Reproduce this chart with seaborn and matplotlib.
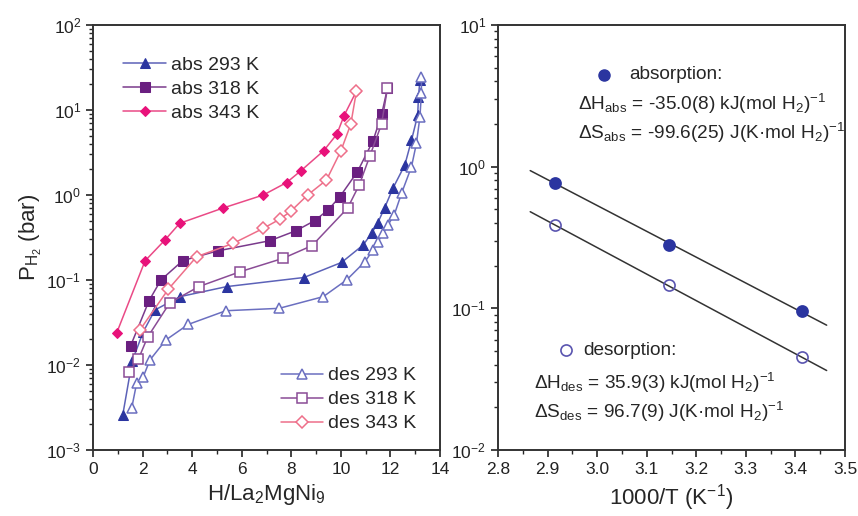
import numpy as np
import matplotlib
matplotlib.use('Agg')
import matplotlib.pyplot as plt
import seaborn as sns
from matplotlib.ticker import LogLocator, MultipleLocator, NullFormatter

# isotherm data (x = H/La2MgNi9, y = P in bar)
abs293_x = [1.2, 1.58, 2.03, 2.5, 3.51, 5.39, 8.51, 10.03, 10.9, 11.24, 11.48, 11.77, 12.1, 12.58, 12.85, 13.1, 13.13, 13.19]
abs293_p = [0.00258, 0.0111, 0.0247, 0.0444, 0.0637, 0.0836, 0.107, 0.161, 0.258, 0.354, 0.465, 0.71, 1.2, 2.25, 4.4, 8.7, 14.1, 22.5]
abs318_x = [1.52, 2.26, 2.74, 3.62, 5.03, 7.14, 8.19, 8.95, 9.49, 9.96, 10.67, 11.3, 11.65, 11.88]
abs318_p = [0.0169, 0.057, 0.10, 0.169, 0.22, 0.29, 0.38, 0.50, 0.67, 0.955, 1.88, 4.35, 9.0, 18.0]
abs343_x = [0.95, 2.1, 2.9, 3.5, 5.23, 6.87, 7.81, 8.39, 9.30, 9.84, 10.13, 10.63]
abs343_p = [0.0236, 0.168, 0.295, 0.465, 0.70, 1.0, 1.40, 1.93, 3.3, 5.2, 8.6, 16.7]

des293_x = [1.56, 1.76, 2.03, 2.3, 2.94, 3.84, 5.36, 7.51, 9.29, 10.23, 10.97, 11.3, 11.5, 11.7, 11.9, 12.15, 12.45, 12.85, 13.05, 13.19, 13.25, 13.25]
des293_p = [0.0031, 0.0061, 0.0073, 0.0115, 0.0197, 0.030, 0.0435, 0.0464, 0.0637, 0.10, 0.164, 0.225, 0.282, 0.354, 0.444, 0.58, 1.05, 2.15, 4.06, 8.3, 15.7, 24.7]
des318_x = [1.45, 1.83, 2.2, 3.10, 4.27, 5.93, 7.67, 8.84, 10.27, 10.74, 11.17, 11.64, 11.88]
des318_p = [0.0083, 0.0117, 0.0212, 0.054, 0.0836, 0.125, 0.18, 0.254, 0.70, 1.31, 2.88, 6.8, 18.0]
des343_x = [1.9, 3.04, 4.18, 5.66, 6.87, 7.54, 7.97, 8.66, 9.42, 10.0, 10.40, 10.63]
des343_p = [0.026, 0.078, 0.188, 0.27, 0.405, 0.52, 0.64, 1.0, 1.5, 3.3, 6.8, 16.7]

# van't Hoff data
inv_T = [1000 / 343, 1000 / 318, 1000 / 293]
p_abs = [0.77, 0.282, 0.095]
p_des = [0.385, 0.145, 0.045]
fit_range = [2.865, 3.463]

sns.set_style('ticks')
plt.rcParams['font.family'] = ['Liberation Sans', 'DejaVu Sans']
plt.rcParams['mathtext.default'] = 'regular'
plt.rcParams['axes.edgecolor'] = '#333333'
plt.rcParams['axes.linewidth'] = 1.4

fig = plt.figure(figsize=(8.58, 5.16), dpi=100)
ax1 = fig.add_axes([93 / 858, 66 / 516, 347 / 858, 425 / 516])
ax2 = fig.add_axes([498 / 858, 66 / 516, 347 / 858, 425 / 516])

blue, purple, pink = '#2b35a0', '#6a1f80', '#e8127a'
blue_l, purple_l, pink_l = '#6b6fc0', '#8a4c96', '#ee6f8a'

series_abs = [(abs293_x, abs293_p, 'abs 293 K', '^', blue, '#5c62b8'),
              (abs318_x, abs318_p, 'abs 318 K', 's', purple, '#7a3a8c'),
              (abs343_x, abs343_p, 'abs 343 K', 'D', pink, '#ea4a86')]
series_des = [(des293_x, des293_p, 'des 293 K', '^', blue_l),
              (des318_x, des318_p, 'des 318 K', 's', purple_l),
              (des343_x, des343_p, 'des 343 K', 'D', pink_l)]

abs_handles = []
for x, p, lab, m, c, lc in series_abs:
    sns.lineplot(x=x, y=p, ax=ax1, sort=False, estimator=None, color=lc, lw=1.1,
                 marker=m, markersize=6.5 if m != 'D' else 5.5, markerfacecolor=c,
                 markeredgecolor=c, label=lab, legend=False)
    abs_handles.append(ax1.lines[-1])
des_handles = []
for x, p, lab, m, c in series_des:
    sns.lineplot(x=x, y=p, ax=ax1, sort=False, estimator=None, color=c, lw=1.1,
                 marker=m, markersize=7 if m != 'D' else 6, markerfacecolor='white',
                 markeredgecolor=c, markeredgewidth=1.1, label=lab, legend=False)
    des_handles.append(ax1.lines[-1])

ax1.set_yscale('log')
ax1.set_xlim(0, 14)
ax1.set_ylim(1e-3, 1e2)
ax1.xaxis.set_major_locator(MultipleLocator(2))
ax1.xaxis.set_minor_locator(MultipleLocator(1))
ax1.yaxis.set_major_locator(LogLocator(base=10, numticks=10))
ax1.yaxis.set_minor_locator(LogLocator(base=10, subs=np.arange(2, 10), numticks=20))
ax1.yaxis.set_minor_formatter(NullFormatter())
ax1.set_xlabel('H/La$_2$MgNi$_9$', fontsize=16)
ax1.set_ylabel('P$_{H_2}$ (bar)', fontsize=16, labelpad=2)

leg_kw = dict(frameon=False, fontsize=14, handlelength=2.2, handletextpad=0.25,
              labelspacing=0.33, borderaxespad=0)
leg1 = ax1.legend(handles=abs_handles, loc='upper left', bbox_to_anchor=(0.065, 0.945), **leg_kw)
ax1.add_artist(leg1)
ax1.legend(handles=des_handles, loc='lower right', bbox_to_anchor=(0.955, 0.023), **leg_kw)

# right panel: points and linear fits of log10(P) against 1000/T
for p, face, edge in [(p_abs, blue, blue), (p_des, 'none', '#5a55b0')]:
    k, b = np.polyfit(inv_T, np.log10(p), 1)
    xs = np.array(fit_range)
    sns.lineplot(x=xs, y=10 ** (k * xs + b), ax=ax2, color='#333333', lw=1.1)
    ax2.plot(inv_T, p, 'o', ms=8, markerfacecolor=face, markeredgecolor=edge, mew=1.2)

ax2.set_yscale('log')
ax2.set_xlim(2.8, 3.5)
ax2.set_ylim(1e-2, 1e1)
ax2.xaxis.set_major_locator(MultipleLocator(0.1))
ax2.xaxis.set_minor_locator(MultipleLocator(0.05))
ax2.xaxis.set_major_formatter(matplotlib.ticker.FormatStrFormatter('%.1f'))
ax2.yaxis.set_major_locator(LogLocator(base=10, numticks=10))
ax2.yaxis.set_minor_locator(LogLocator(base=10, subs=np.arange(2, 10), numticks=20))
ax2.yaxis.set_minor_formatter(NullFormatter())
ax2.set_xlabel('1000/T (K$^{-1}$)', fontsize=16)

fs = 13.7
ax2.plot([0.305], [0.883], 'o', ms=8, color=blue, transform=ax2.transAxes)
ax2.text(0.378, 0.883, 'absorption:', transform=ax2.transAxes, fontsize=fs, va='center')
ax2.text(0.23, 0.815, r'$\Delta$H$_{abs}$ = -35.0(8) kJ(mol H$_2$)$^{-1}$',
         transform=ax2.transAxes, fontsize=fs, va='center')
ax2.text(0.23, 0.745, r'$\Delta$S$_{abs}$ = -99.6(25) J(K·mol H$_2$)$^{-1}$',
         transform=ax2.transAxes, fontsize=fs, va='center')
ax2.plot([0.195], [0.235], 'o', ms=8, markerfacecolor='none', markeredgecolor='#5a55b0',
         mew=1.2, transform=ax2.transAxes)
ax2.text(0.245, 0.235, 'desorption:', transform=ax2.transAxes, fontsize=fs, va='center')
ax2.text(0.105, 0.158, r'$\Delta$H$_{des}$ = 35.9(3) kJ(mol H$_2$)$^{-1}$',
         transform=ax2.transAxes, fontsize=fs, va='center')
ax2.text(0.105, 0.09, r'$\Delta$S$_{des}$ = 96.7(9) J(K·mol H$_2$)$^{-1}$',
         transform=ax2.transAxes, fontsize=fs, va='center')

for ax in (ax1, ax2):
    ax.tick_params(which='major', direction='out', length=5, width=1.2, labelsize=12.5,
                   colors='#222222')
    ax.tick_params(which='minor', direction='out', length=3, width=1.0)
    for s in ax.spines.values():
        s.set_visible(True)

fig.savefig('out.png', dpi=100)
